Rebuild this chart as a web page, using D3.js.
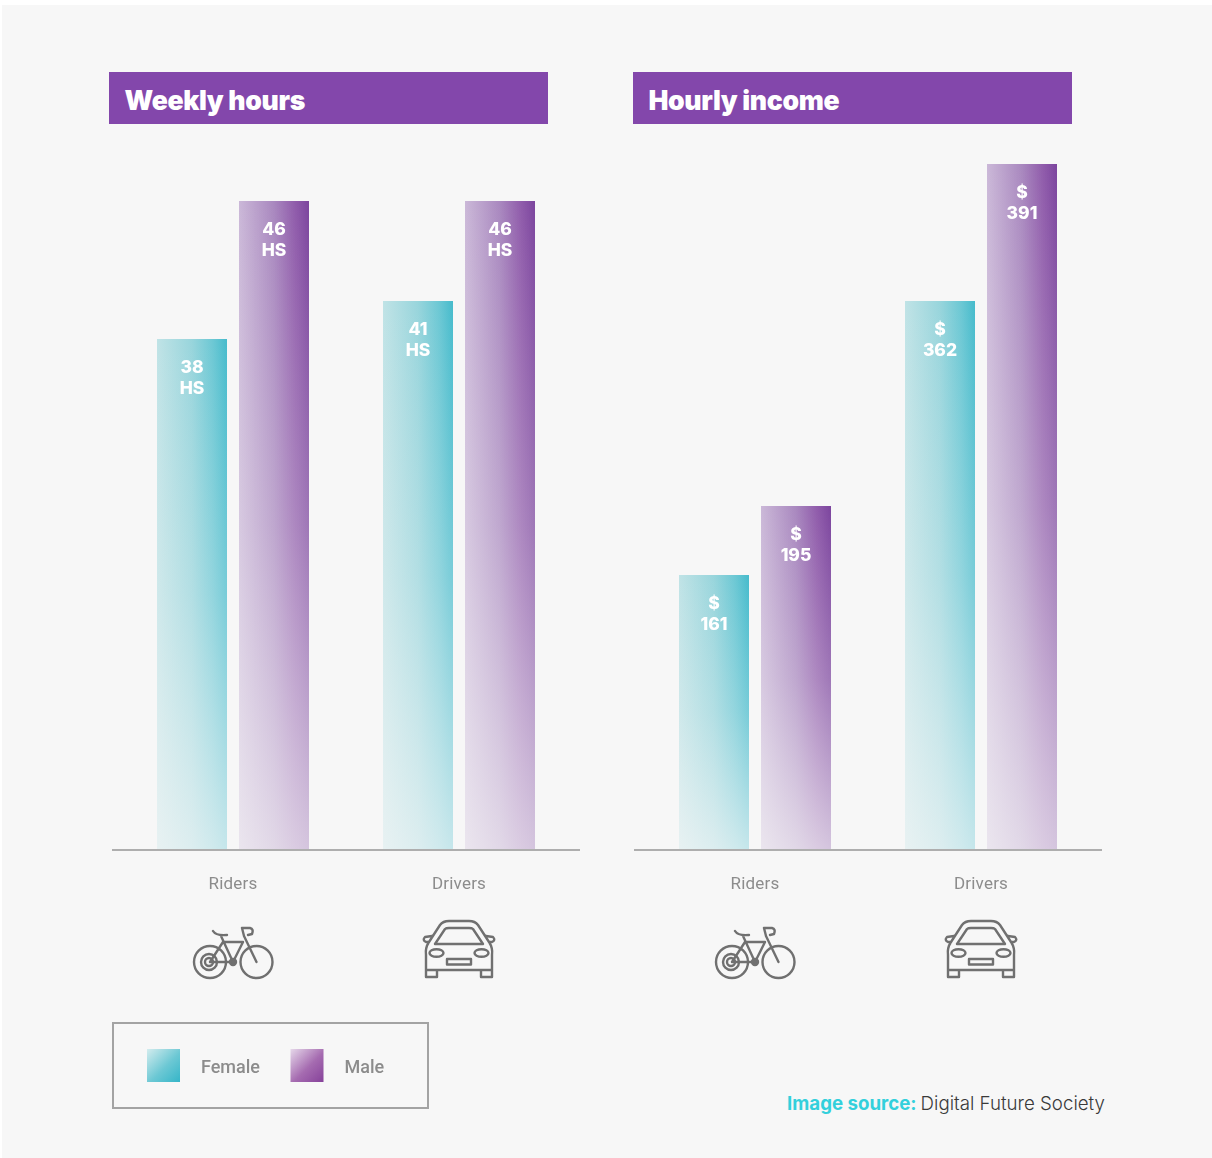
<!DOCTYPE html>
<html>
<head>
<meta charset="utf-8">
<script src="https://cdn.jsdelivr.net/npm/d3@7"></script>
<style>
html, body { margin: 0; padding: 0; background: #fff; }
svg { display: block; }
.AxisLabel { font-family: Roboto, sans-serif; font-size: 17px; fill: #8c8c8c; letter-spacing: 0.2px; }
.ValueText { font-family: Inter, sans-serif; font-size: 17.5px; font-weight: 800; fill: #fff; text-anchor: middle; }
.TitleText { font-family: Inter, sans-serif; font-size: 26.6px; font-weight: 900; fill: #fff; letter-spacing: -0.35px; }
.LegendText { font-family: Roboto, sans-serif; font-size: 18px; font-weight: 500; fill: #8c8c8c; }
.SourceText { font-family: Inter, sans-serif; font-size: 18.7px; }
.Icon { fill: none; stroke: #707070; stroke-width: 2.4; stroke-linejoin: round; stroke-linecap: round; }
.Soft { filter: blur(0.55px); }
</style>
</head>
<body>
<svg id="SvgContainer"></svg>
<script>
var categories = ["Riders", "Drivers"];
var genders = ["Female", "Male"];

var hoursFemale = [38, 41];
var hoursMale = [46, 46];

var incomeFemale = [161, 362];
var incomeMale = [195, 391];

// the bars in the picture are not proportional to their labels, so the
// scales go through each labelled value instead of one straight line
var hoursDomain = [0, 38, 41, 46];
var hoursRange = [850, 339, 301, 201];
var incomeDomain = [0, 161, 195, 362, 391];
var incomeRange = [850, 575, 506, 301, 164];

var width = 1212;
var height = 1158;
var baseline = 850;
var groupStep = 226;
var barWidth = 70;
var barGap = 12;

var svg = d3.select("#SvgContainer")
    .attr("width", width)
    .attr("height", height);

svg.append("rect")
    .attr("x", 2).attr("y", 5)
    .attr("width", width - 2).attr("height", height - 5)
    .attr("fill", "#f7f7f7");

var defs = svg.append("defs");

function MakeGradient(id, x2, y2, stops) {
    var g = defs.append("linearGradient")
        .attr("id", id)
        .attr("x1", 0).attr("y1", 0)
        .attr("x2", x2).attr("y2", y2);
    stops.forEach(function (s) {
        g.append("stop").attr("offset", s[0]).attr("stop-color", s[1]).attr("stop-opacity", s[2]);
    });
}

MakeGradient("FemaleBar", 1, 0, [[0, "#c0e3e6", 1], [0.5, "#98d5dc", 1], [0.8, "#6cc8d4", 1], [1, "#46bbcc", 1]]);
MakeGradient("MaleBar", 1, 0, [[0, "#cbb8d8", 1], [0.5, "#a988bf", 1], [0.8, "#905cab", 1], [1, "#7c459e", 1]]);
MakeGradient("FadeBar", 0, 1, [[0, "#f7f7f7", 0], [0.5, "#f7f7f7", 0.28], [1, "#f7f7f7", 0.72]]);
MakeGradient("FemaleSwatch", 1, 1, [[0, "#d3ecee", 1], [0.55, "#6cc8d4", 1], [1, "#35b5c8", 1]]);
MakeGradient("MaleSwatch", 1, 1, [[0, "#e6d8ea", 1], [0.55, "#a56bb0", 1], [1, "#86429a", 1]]);

function DrawBike(g) {
    g.append("circle").attr("cx", -23).attr("cy", 962).attr("r", 16);
    g.append("circle").attr("cx", 23.5).attr("cy", 962).attr("r", 16);
    g.append("circle").attr("cx", -24).attr("cy", 962).attr("r", 8);
    g.append("circle").attr("cx", -24).attr("cy", 962).attr("r", 4);
    g.append("path").attr("d",
        "M-23,962 L-10,942 L10,942 L0,962 Z" +
        "M-12,936 L0,962" +
        "M-20,931 Q-17,936 -6,935" +
        "M11,936 L23.5,962" +
        "M11,936 L9,928 L17,928 Q21,929 19,934 L15,935");
    g.append("circle").attr("cx", 0).attr("cy", 962).attr("r", 3).attr("fill", "#707070");
}

function DrawCar(g) {
    g.append("path").attr("d",
        "M-30,942 L-19,925 Q-16,921 -10,921 L10,921 Q16,921 19,925 L30,942" +
        "M-24,944 L-14,929 Q-13,928 -10,928 L10,928 Q13,928 14,929 L24,944 Z" +
        "M-27,936 L-34,937 Q-37,940 -33,942 L-30,942" +
        "M27,936 L34,937 Q37,940 33,942 L30,942" +
        "M-30,942 Q-34,948 -33,955 L-33,977 L-22,977 L-22,970 L22,970 L22,977 L33,977 L33,955 Q34,948 30,942" +
        "M-33,970 L-22,970 M22,970 L33,970");
    g.append("ellipse").attr("cx", -22.5).attr("cy", 953).attr("rx", 7).attr("ry", 3.8);
    g.append("ellipse").attr("cx", 22.5).attr("cy", 953).attr("rx", 7).attr("ry", 3.8);
    g.append("rect").attr("x", -12).attr("y", 959).attr("width", 24).attr("height", 5.5);
}

function DrawPanel(left, bandX, title, femaleValues, maleValues, domain, range, valueLines) {
    // title band
    svg.append("rect")
        .attr("x", bandX).attr("y", 72)
        .attr("width", 439).attr("height", 52)
        .attr("fill", "#8347ab");
    svg.append("text")
        .attr("class", "TitleText")
        .attr("x", bandX + 15.5).attr("y", 109.5)
        .text(title);

    var x0 = d3.scaleBand()
        .domain(categories)
        .range([left, left + 2 * groupStep]);

    var x1 = d3.scaleBand()
        .domain(genders)
        .range([37, 37 + 2 * barWidth + barGap])
        .paddingInner(barGap / (barWidth + barGap));

    var y = d3.scaleLinear()
        .domain(domain)
        .range(range);

    var rows = [];
    categories.forEach(function (c, i) {
        rows.push({ cat: c, gender: "Female", value: femaleValues[i] });
        rows.push({ cat: c, gender: "Male", value: maleValues[i] });
    });

    var groups = svg.selectAll(".DataGroup" + left)
        .data(rows)
        .enter()
        .append("g")
        .attr("class", "DataGroup" + left + " Soft")
        .attr("transform", function (d) {
            return "translate(" + (x0(d.cat) + x1(d.gender)) + ",0)";
        });

    ["fill", "FadeBar"].forEach(function (layer) {
        groups.append("rect")
            .attr("x", 0)
            .attr("y", function (d) { return y(d.value); })
            .attr("width", x1.bandwidth())
            .attr("height", function (d) { return baseline - y(d.value); })
            .attr("fill", function (d) {
                return "url(#" + (layer == "fill" ? d.gender + "Bar" : layer) + ")";
            });
    });

    groups.each(function (d) {
        var lines = valueLines(d.value);
        var g = d3.select(this);
        lines.forEach(function (t, i) {
            g.append("text")
                .attr("class", "ValueText")
                .attr("x", x1.bandwidth() / 2)
                .attr("y", y(d.value) + 34 + i * 21)
                .text(t);
        });
    });

    // base line and category labels
    svg.append("g")
        .attr("class", "Soft")
        .attr("transform", "translate(0," + baseline + ")")
        .call(d3.axisBottom(x0).tickSize(0).tickPadding(27))
        .call(function (a) {
            a.select(".domain").remove();
            a.selectAll("text").attr("class", "AxisLabel").attr("font-family", null).attr("font-size", null);
        });
    svg.append("line")
        .attr("class", "Soft")
        .attr("x1", left - 8).attr("x2", left + 2 * groupStep + 8)
        .attr("y1", baseline).attr("y2", baseline)
        .attr("stroke", "#aeaeae").attr("stroke-width", 2);

    DrawBike(svg.append("g").attr("class", "Icon Soft")
        .attr("transform", "translate(" + (x0("Riders") + x0.bandwidth() / 2) + ",0)"));
    DrawCar(svg.append("g").attr("class", "Icon Soft")
        .attr("transform", "translate(" + (x0("Drivers") + x0.bandwidth() / 2) + ",0)"));
}

DrawPanel(120, 109, "Weekly hours", hoursFemale, hoursMale, hoursDomain, hoursRange,
    function (v) { return [v, "HS"]; });
DrawPanel(642, 633, "Hourly income", incomeFemale, incomeMale, incomeDomain, incomeRange,
    function (v) { return ["$", v]; });

// legend
svg.append("rect")
    .attr("class", "Soft")
    .attr("x", 113).attr("y", 1023)
    .attr("width", 315).attr("height", 85)
    .attr("fill", "none").attr("stroke", "#a3a3a3").attr("stroke-width", 2);

var legendX = [147, 290.5];
var legend = svg.selectAll(".LegendGroup")
    .data(genders)
    .enter()
    .append("g")
    .attr("class", "LegendGroup Soft")
    .attr("transform", function (d, i) { return "translate(" + legendX[i] + ",1049)"; });

legend.append("rect")
    .attr("width", 33).attr("height", 33)
    .attr("fill", function (d) { return "url(#" + d + "Swatch)"; });

legend.append("text")
    .attr("class", "LegendText")
    .attr("x", 54).attr("y", 23.5)
    .text(function (d) { return d; });

// source note
var source = svg.append("text")
    .attr("class", "SourceText")
    .attr("x", 787).attr("y", 1110);
source.append("tspan").attr("fill", "#33d0dc").attr("font-weight", 700).text("Image source:");
source.append("tspan").attr("fill", "#3a3a3a").attr("font-weight", 300).attr("dx", 4).text("Digital Future Society");
</script>
</body>
</html>
